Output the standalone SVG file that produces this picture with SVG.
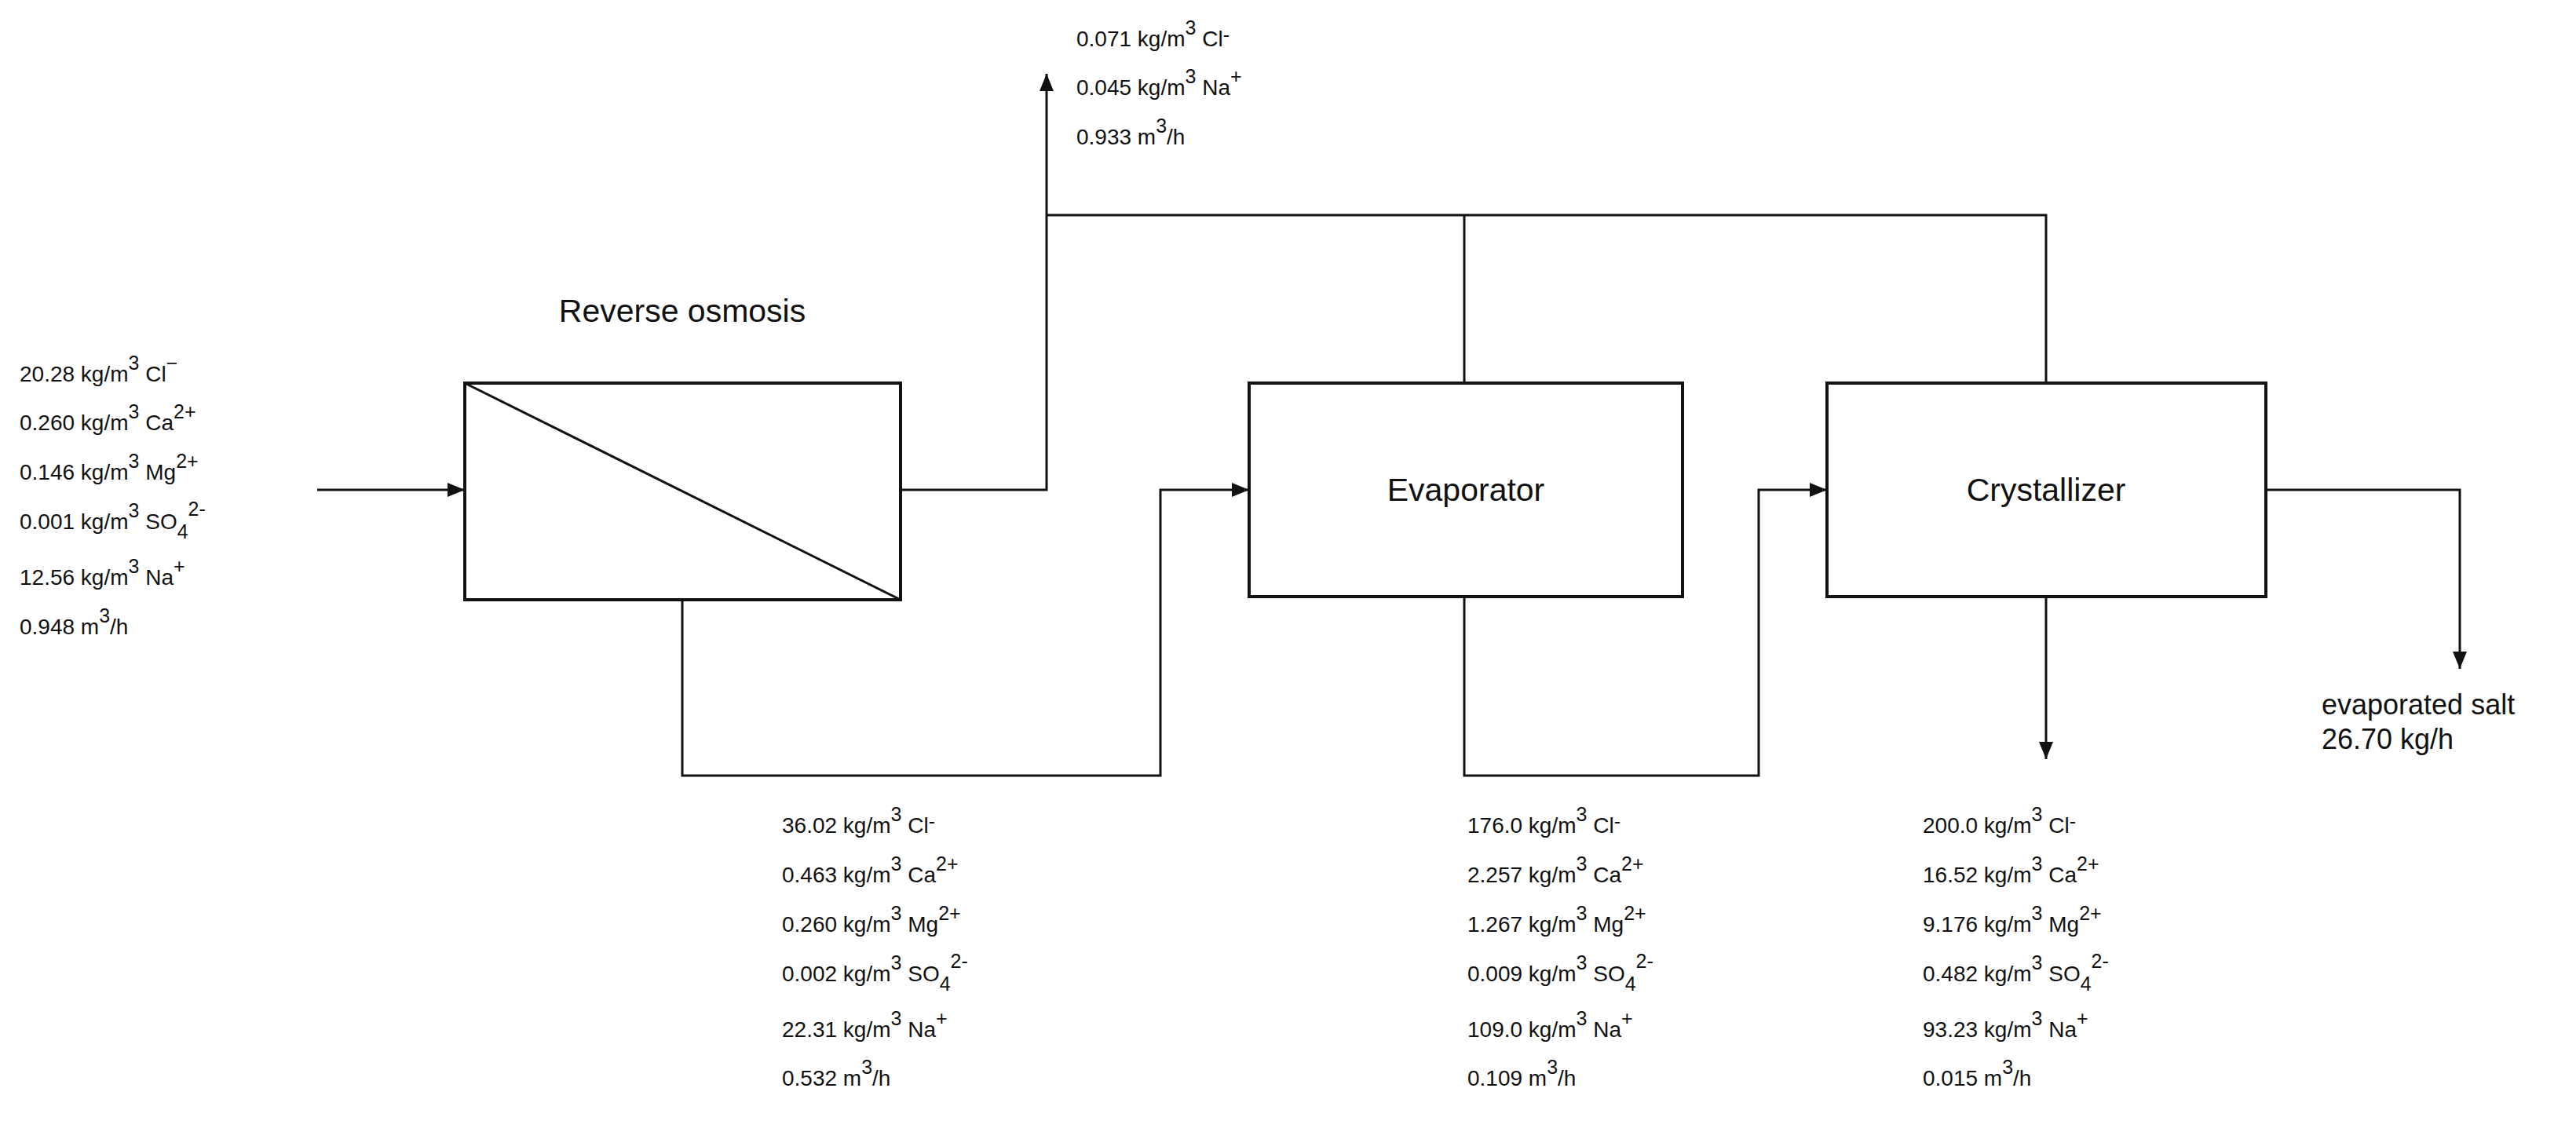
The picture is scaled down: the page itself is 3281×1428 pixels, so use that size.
<svg xmlns="http://www.w3.org/2000/svg" width="3281" height="1428" viewBox="0 0 3281 1428">
<style>
text{font-family:"Liberation Sans",Arial,sans-serif;font-size:28px;fill:#111}
.s{font-size:25px}
.big{font-size:41px}
.mid{font-size:36px}
.box{fill:#fff;stroke:#111;stroke-width:4}
.ln{fill:none;stroke:#111;stroke-width:3}
</style>
<defs>
<marker id="m" viewBox="0 0 22 18" refX="22" refY="9" markerWidth="22" markerHeight="18" markerUnits="userSpaceOnUse" orient="auto">
<path d="M0,0 L22,9 L0,18 z" fill="#111"/>
</marker>
</defs>
<g id="connectors">
<path class="ln" d="M404,624 H592" marker-end="url(#m)"/>
<path class="ln" d="M1147,624 H1333 V94" marker-end="url(#m)"/>
<path class="ln" d="M1333,274 H2606 V488 M1865,274 V488"/>
<path class="ln" d="M869,764 V988 H1478 V624 H1591" marker-end="url(#m)"/>
<path class="ln" d="M1865,760 V988 H2240 V624 H2327" marker-end="url(#m)"/>
<path class="ln" d="M2886,624 H3133 V852" marker-end="url(#m)"/>
<path class="ln" d="M2606,760 V967" marker-end="url(#m)"/>
</g>
<g id="ro">
<rect class="box" x="592" y="488" width="555" height="276"/>
<line class="ln" x1="592" y1="488" x2="1147" y2="764"/>
<text class="big" x="869" y="410" text-anchor="middle">Reverse osmosis</text>
</g>
<g id="evaporator">
<rect class="box" x="1591" y="488" width="552" height="272"/>
<text class="big" x="1867" y="638" text-anchor="middle">Evaporator</text>
</g>
<g id="crystallizer">
<rect class="box" x="2327" y="488" width="559" height="272"/>
<text class="big" x="2606" y="638" text-anchor="middle">Crystallizer</text>
</g>
<g id="feed">
<text x="25" y="486">20.28 kg/m<tspan class="s" dy="-15">3</tspan><tspan dy="15"> Cl</tspan><tspan class="s" dy="-15">−</tspan></text>
<text x="25" y="548">0.260 kg/m<tspan class="s" dy="-15">3</tspan><tspan dy="15"> Ca</tspan><tspan class="s" dy="-15">2+</tspan></text>
<text x="25" y="611">0.146 kg/m<tspan class="s" dy="-15">3</tspan><tspan dy="15"> Mg</tspan><tspan class="s" dy="-15">2+</tspan></text>
<text x="25" y="674">0.001 kg/m<tspan class="s" dy="-15">3</tspan><tspan dy="15"> SO</tspan><tspan class="s" dy="12">4</tspan><tspan class="s" dy="-29">2-</tspan></text>
<text x="25" y="745">12.56 kg/m<tspan class="s" dy="-15">3</tspan><tspan dy="15"> Na</tspan><tspan class="s" dy="-15">+</tspan></text>
<text x="25" y="808">0.948 m<tspan class="s" dy="-15">3</tspan><tspan dy="15">/h</tspan></text>
</g>
<g id="permeate">
<text x="1371" y="59">0.071 kg/m<tspan class="s" dy="-15">3</tspan><tspan dy="15"> Cl</tspan><tspan class="s" dy="-6">-</tspan></text>
<text x="1371" y="121">0.045 kg/m<tspan class="s" dy="-15">3</tspan><tspan dy="15"> Na</tspan><tspan class="s" dy="-15">+</tspan></text>
<text x="1371" y="184">0.933 m<tspan class="s" dy="-15">3</tspan><tspan dy="15">/h</tspan></text>
</g>
<g id="concentrate1">
<text x="996" y="1061">36.02 kg/m<tspan class="s" dy="-15">3</tspan><tspan dy="15"> Cl</tspan><tspan class="s" dy="-6">-</tspan></text>
<text x="996" y="1124">0.463 kg/m<tspan class="s" dy="-15">3</tspan><tspan dy="15"> Ca</tspan><tspan class="s" dy="-15">2+</tspan></text>
<text x="996" y="1187">0.260 kg/m<tspan class="s" dy="-15">3</tspan><tspan dy="15"> Mg</tspan><tspan class="s" dy="-15">2+</tspan></text>
<text x="996" y="1250">0.002 kg/m<tspan class="s" dy="-15">3</tspan><tspan dy="15"> SO</tspan><tspan class="s" dy="12">4</tspan><tspan class="s" dy="-29">2-</tspan></text>
<text x="996" y="1321">22.31 kg/m<tspan class="s" dy="-15">3</tspan><tspan dy="15"> Na</tspan><tspan class="s" dy="-15">+</tspan></text>
<text x="996" y="1383">0.532 m<tspan class="s" dy="-15">3</tspan><tspan dy="15">/h</tspan></text>
</g>
<g id="concentrate2">
<text x="1869" y="1061">176.0 kg/m<tspan class="s" dy="-15">3</tspan><tspan dy="15"> Cl</tspan><tspan class="s" dy="-6">-</tspan></text>
<text x="1869" y="1124">2.257 kg/m<tspan class="s" dy="-15">3</tspan><tspan dy="15"> Ca</tspan><tspan class="s" dy="-15">2+</tspan></text>
<text x="1869" y="1187">1.267 kg/m<tspan class="s" dy="-15">3</tspan><tspan dy="15"> Mg</tspan><tspan class="s" dy="-15">2+</tspan></text>
<text x="1869" y="1250">0.009 kg/m<tspan class="s" dy="-15">3</tspan><tspan dy="15"> SO</tspan><tspan class="s" dy="12">4</tspan><tspan class="s" dy="-29">2-</tspan></text>
<text x="1869" y="1321">109.0 kg/m<tspan class="s" dy="-15">3</tspan><tspan dy="15"> Na</tspan><tspan class="s" dy="-15">+</tspan></text>
<text x="1869" y="1383">0.109 m<tspan class="s" dy="-15">3</tspan><tspan dy="15">/h</tspan></text>
</g>
<g id="mother">
<text x="2449" y="1061">200.0 kg/m<tspan class="s" dy="-15">3</tspan><tspan dy="15"> Cl</tspan><tspan class="s" dy="-6">-</tspan></text>
<text x="2449" y="1124">16.52 kg/m<tspan class="s" dy="-15">3</tspan><tspan dy="15"> Ca</tspan><tspan class="s" dy="-15">2+</tspan></text>
<text x="2449" y="1187">9.176 kg/m<tspan class="s" dy="-15">3</tspan><tspan dy="15"> Mg</tspan><tspan class="s" dy="-15">2+</tspan></text>
<text x="2449" y="1250">0.482 kg/m<tspan class="s" dy="-15">3</tspan><tspan dy="15"> SO</tspan><tspan class="s" dy="12">4</tspan><tspan class="s" dy="-29">2-</tspan></text>
<text x="2449" y="1321">93.23 kg/m<tspan class="s" dy="-15">3</tspan><tspan dy="15"> Na</tspan><tspan class="s" dy="-15">+</tspan></text>
<text x="2449" y="1383">0.015 m<tspan class="s" dy="-15">3</tspan><tspan dy="15">/h</tspan></text>
</g>
<g id="salt">
<text class="mid" x="2957" y="910">evaporated salt</text>
<text class="mid" x="2957" y="954">26.70 kg/h</text>
</g>
</svg>
